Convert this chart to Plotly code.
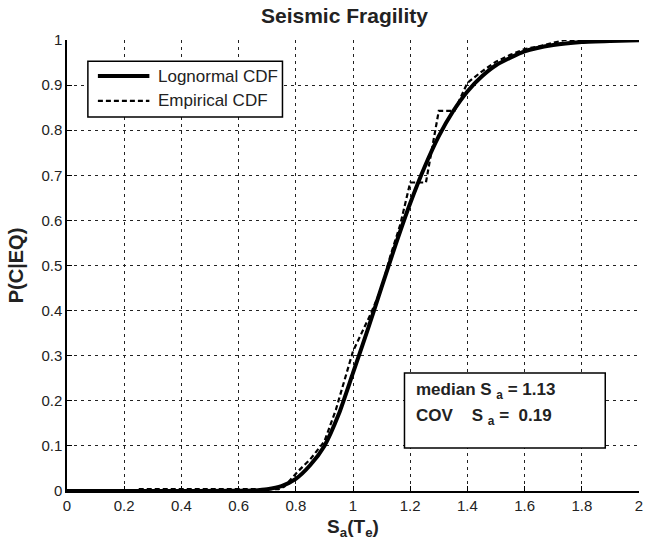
import plotly.graph_objects as go

# Lognormal CDF
logn_x = [0.0, 0.3, 0.6, 0.65, 0.7, 0.75, 0.8, 0.85, 0.9, 0.95, 1.0, 1.05, 1.1, 1.15, 1.2,
          1.25, 1.3, 1.35, 1.4, 1.45, 1.5, 1.6, 1.7, 1.8, 1.9, 2.0]
logn_p = [0.0, 0.0, 0.0003, 0.0012, 0.004, 0.011, 0.027, 0.057, 0.10, 0.17, 0.262, 0.355,
          0.452, 0.548, 0.638, 0.718, 0.787, 0.842, 0.886, 0.919, 0.944, 0.975, 0.989,
          0.9956, 0.998, 0.9993]

# Empirical CDF
emp_x = [0.0, 0.23, 0.25, 0.74, 0.76, 0.81, 0.85, 0.90, 0.94, 0.97, 1.0, 1.03, 1.06, 1.10,
         1.13, 1.165, 1.20, 1.255, 1.27, 1.30, 1.355, 1.40, 1.45, 1.50, 1.55, 1.60, 1.65,
         1.74, 2.0]
emp_p = [0.0, 0.0, 0.004, 0.004, 0.01, 0.045, 0.07, 0.11, 0.18, 0.245, 0.31, 0.35, 0.39,
         0.45, 0.52, 0.59, 0.684, 0.684, 0.735, 0.843, 0.843, 0.905, 0.93, 0.952, 0.967,
         0.98, 0.986, 1.0, 1.0]

x_ticks = [0, 0.2, 0.4, 0.6, 0.8, 1, 1.2, 1.4, 1.6, 1.8, 2]
x_ticktext = ["0", "0.2", "0.4", "0.6", "0.8", "1", "1.2", "1.4", "1.6", "1.8", "2"]
y_ticks = [0, 0.1, 0.2, 0.3, 0.4, 0.5, 0.6, 0.7, 0.8, 0.9, 1]
y_ticktext = ["0", "0.1", "0.2", "0.3", "0.4", "0.5", "0.6", "0.7", "0.8", "0.9", "1"]

legend_names = ["Lognormal CDF", "Empirical CDF"]
stat_lines = ["<b>median S <sub>a</sub> = 1.13</b>", "<b>COV    S <sub>a</sub> =  0.19</b>"]

FONT = "Liberation Sans, Arial, sans-serif"
TXT = "#222222"

fig = go.Figure()
fig.add_trace(go.Scatter(x=logn_x, y=logn_p, mode="lines", name=legend_names[0],
                         line=dict(color="black", width=4, shape="spline", smoothing=0.6)))
fig.add_trace(go.Scatter(x=emp_x, y=emp_p, mode="lines", name=legend_names[1],
                         line=dict(color="black", width=2.2, dash="5px,3px")))

axis_common = dict(
    showline=True, linecolor="black", linewidth=1.5, mirror=False,
    showgrid=True, gridcolor="#222222", gridwidth=1, griddash="3px,4px",
    zeroline=False, ticks="inside", ticklen=5, tickcolor="black",
    tickfont=dict(family=FONT, size=15, color=TXT),
)

fig.update_layout(
    width=649, height=549,
    margin=dict(l=67, r=6, t=40, b=58),
    paper_bgcolor="white", plot_bgcolor="white",
    font=dict(family=FONT, color="black"),
    showlegend=False,
    xaxis=dict(range=[0, 2], tickvals=x_ticks, ticktext=x_ticktext,
               title=dict(text="<b>S<sub>a</sub>(T<sub>e</sub>)</b>",
                          font=dict(family=FONT, size=19, color=TXT), standoff=7),
               **axis_common),
    yaxis=dict(range=[0, 1], tickvals=y_ticks, ticktext=y_ticktext,
               title=dict(text="<b>P(C|EQ)</b>",
                          font=dict(family=FONT, size=20, color=TXT), standoff=12),
               **axis_common),
)

# Title
fig.add_annotation(xref="paper", yref="paper", x=0.486, y=1.0, yshift=38,
                   xanchor="center", yanchor="top", showarrow=False,
                   text="<b>Seismic Fragility</b>",
                   font=dict(family=FONT, size=21, color=TXT))

# Custom legend (box, sample lines, labels)
fig.add_shape(type="rect", xref="paper", yref="paper", x0=0.0365, x1=0.3767, y0=0.829, y1=0.953,
              line=dict(color="black", width=1.5), fillcolor="white", layer="above")
fig.add_shape(type="line", xref="paper", yref="paper", x0=0.054, x1=0.144, y0=0.920, y1=0.920,
              line=dict(color="black", width=4), layer="above")
fig.add_shape(type="line", xref="paper", yref="paper", x0=0.054, x1=0.144, y0=0.865, y1=0.865,
              line=dict(color="black", width=2.2, dash="5px,3px"), layer="above")
for name, yy in zip(legend_names, [0.920, 0.865]):
    fig.add_annotation(xref="paper", yref="paper", x=0.156, y=yy, xanchor="left",
                       yanchor="middle", showarrow=False, text=name,
                       font=dict(family=FONT, size=17, color=TXT))

# Statistics box
fig.add_shape(type="rect", xref="paper", yref="paper", x0=0.590, x1=0.941, y0=0.0953, y1=0.2616,
              line=dict(color="black", width=1.5), fillcolor="white", layer="above")
for line_txt, yy in zip(stat_lines, [0.222, 0.163]):
    fig.add_annotation(xref="paper", yref="paper", x=0.606, y=yy, xanchor="left",
                       yanchor="middle", showarrow=False, text=line_txt,
                       font=dict(family=FONT, size=17, color=TXT))

fig.write_html("out.html")
